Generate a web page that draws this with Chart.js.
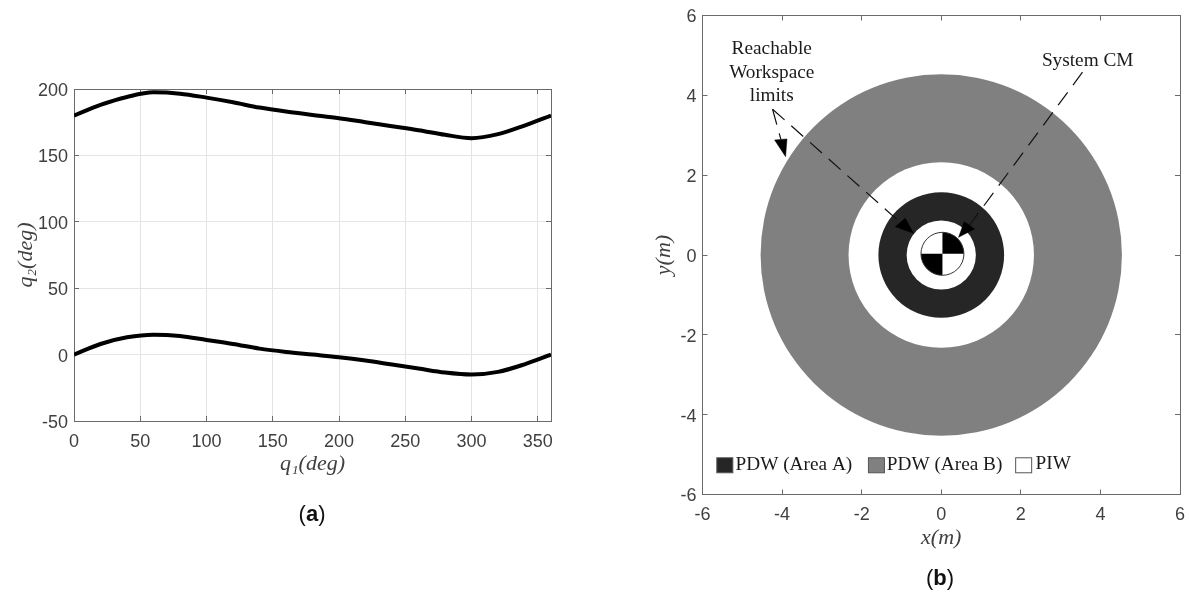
<!DOCTYPE html>
<html>
<head>
<meta charset="utf-8">
<script src="https://cdn.jsdelivr.net/npm/chart.js@4"></script>
<style>
  body { margin: 0; background: #fff; }
  canvas { position: absolute; top: 0; }
  .cap { position: absolute; font: 22px "Liberation Sans", sans-serif; color: #111; transform: translateX(-50%); }
  .cap b { font-weight: bold; }
</style>
</head>
<body>
<canvas id="curveChart" width="620" height="596" style="left:0"></canvas>
<canvas id="workspaceChart" width="549" height="596" style="left:640px"></canvas>
<div class="cap" style="left:312px;top:501px">(<b>a</b>)</div>
<div class="cap" style="left:940px;top:565px">(<b>b</b>)</div>

<script>
// panel (a)
const q1Values = [0, 20, 40, 60, 80, 100, 120, 140, 160, 180, 200, 220, 240, 260, 280, 300, 320, 340, 360];
const q2Upper = [180, 188, 194, 197.5, 196.5, 193.5, 190, 186, 183, 180.5, 178, 175, 172, 169, 165.5, 163, 166, 172.5, 180];
const q2Lower = [0, 8, 13, 15, 14, 11, 8, 4.5, 2, 0, -2, -4.5, -7.5, -10.5, -13.5, -15, -13, -7.3, 0];
const q1Ticks = [0, 50, 100, 150, 200, 250, 300, 350];
const q2Ticks = [-50, 0, 50, 100, 150, 200];

// panel (b), everything in metres
const workspaceTicks = [-6, -4, -2, 0, 2, 4, 6];
const ringRadii = [0.87, 1.58, 2.33, 4.54];
const ringColors = ["#ffffff", "#262626", "#ffffff", "#808080"];
const cmCenter = [0.03, 0.03];
const cmRadius = 0.54;
const leaderA = [[-4.239, 3.652], [-1.03, 0.815]];
const leaderB = [[-4.239, 3.652], [-4.03, 2.895]];
const leaderC = [[3.55, 4.579], [0.707, 0.743]];
const headA = [[-0.696, 0.544], [-1.156, 0.709], [-0.905, 0.92]];
const headB = [[-3.912, 2.464], [-4.188, 2.882], [-3.877, 2.907]];
const headC = [[0.435, 0.444], [0.578, 0.835], [0.837, 0.652]];

const INK = "#404040";
const AXIS = "#6a6a6a";
const SANS = "Liberation Sans";
const SERIF = "Liberation Serif";

const toPoints = (xs, ys) => xs.map((x, i) => ({ x, y: ys[i] }));
const pairs = (list) => list.map(([x, y]) => ({ x, y }));

function fixedTicks(values) {
  return (scale) => { scale.ticks = values.map((value) => ({ value })); };
}

// labels at the axis ends must not push the plot area in
function noOverhang(s) {
  s.paddingLeft = s.paddingRight = s.paddingTop = s.paddingBottom = 0;
}

// main axis with inward ticks, size forced so the plot area lands where we want it
function mainAxis(min, max, values, size, title, gridColor, tickPad, labelOffset) {
  return {
    min, max,
    afterBuildTicks: fixedTicks(values),
    afterFit: (s) => {
      if (s.isHorizontal()) s.height = size; else s.width = size;
      noOverhang(s);
    },
    border: { color: AXIS },
    grid: { color: gridColor, tickColor: AXIS, tickLength: -5 },
    ticks: { color: INK, font: { family: SANS, size: 18 }, padding: tickPad, labelOffset, maxRotation: 0, autoSkip: false },
    title: {
      display: true, text: title, color: INK, padding: 0,
      font: { family: SERIF, size: 22, style: "italic", lineHeight: 1.2 },
    },
  };
}

// mirror axis on the far side, only ticks and the box line
function mirrorAxis(position, min, max, values) {
  return {
    position, min, max,
    afterBuildTicks: fixedTicks(values),
    afterFit: (s) => {
      if (s.isHorizontal()) s.height = 0; else s.width = 0;
      noOverhang(s);
    },
    border: { color: AXIS },
    grid: { drawOnChartArea: false, tickColor: AXIS, tickLength: -5 },
    ticks: { display: false },
  };
}

const baseOptions = {
  responsive: false,
  animation: false,
  events: [],
};

function initCurveChart() {
  const el = document.getElementById("curveChart");
  new Chart(el, {
    type: "line",
    data: {
      datasets: [q2Upper, q2Lower].map((ys) => ({
        data: toPoints(q1Values, ys),
        borderColor: "#000",
        borderWidth: 4,
        pointRadius: 0,
        cubicInterpolationMode: "monotone",
      })),
    },
    options: {
      ...baseOptions,
      layout: { autoPadding: false, padding: { left: 13, right: 69, top: 89, bottom: 119 } },
      plugins: { legend: { display: false }, tooltip: { enabled: false } },
      scales: {
        x: { type: "linear", ...mainAxis(0, 360, q1Ticks, 56, "q₁(deg)", "#e4e4e4", 15, 0) },
        y: mainAxis(-50, 200, q2Ticks, 61, "q₂(deg)", "#e4e4e4", 11, 2),
        x2: { type: "linear", ...mirrorAxis("top", 0, 360, q1Ticks) },
        y2: mirrorAxis("right", -50, 200, q2Ticks),
      },
    },
  });
}

// centre of mass symbol and the free text on panel (b)
const workspaceLabels = {
  id: "workspaceLabels",
  afterDatasetsDraw(chart) {
    const { ctx, scales: { x, y } } = chart;
    const px = (v) => x.getPixelForValue(v);
    const py = (v) => y.getPixelForValue(v);

    const cx = px(cmCenter[0]);
    const cy = py(cmCenter[1]);
    const r = px(cmRadius) - px(0);
    ctx.save();
    ctx.fillStyle = "#000";
    [[-Math.PI / 2, 0], [Math.PI / 2, Math.PI]].forEach(([a, b]) => {
      ctx.beginPath();
      ctx.moveTo(cx, cy);
      ctx.arc(cx, cy, r, a, b);
      ctx.closePath();
      ctx.fill();
    });
    ctx.beginPath();
    ctx.arc(cx, cy, r, 0, Math.PI * 2);
    ctx.strokeStyle = "#333";
    ctx.lineWidth = 1;
    ctx.stroke();

    ctx.fillStyle = "#1a1a1a";
    ctx.font = `19.3px "${SERIF}"`;
    ctx.textBaseline = "middle";
    ctx.textAlign = "center";
    ctx.fillText("Reachable", px(-4.26), py(5.17));
    ctx.fillText("Workspace", px(-4.26), py(4.57));
    ctx.fillText("limits", px(-4.26), py(3.99));
    ctx.fillText("System CM", px(3.68), py(4.86));

    // legend, sits inside the axes in the original
    ctx.textAlign = "left";
    ctx.fillText("PDW (Area A)", px(-5.17), py(-5.27));
    ctx.fillText("PDW (Area B)", px(-1.37), py(-5.27));
    ctx.fillText("PIW", px(2.37), py(-5.24));
    [[-5.64, "#262626"], [-1.83, "#808080"], [1.87, "#ffffff"]].forEach(([lx, fill]) => {
      ctx.fillStyle = fill;
      ctx.strokeStyle = "#555";
      ctx.lineWidth = 1;
      ctx.fillRect(px(lx), py(-5.08), 16, 15);
      ctx.strokeRect(px(lx), py(-5.08), 16, 15);
    });
    ctx.restore();
  },
};

function leader(points) {
  return {
    type: "scatter",
    data: pairs(points),
    showLine: true,
    borderColor: "#111",
    borderWidth: 1.2,
    borderDash: [16, 9],
    pointRadius: 0,
  };
}

function arrowHead(points) {
  return {
    type: "scatter",
    data: pairs([...points, points[0]]),
    showLine: true,
    fill: "shape",
    backgroundColor: "#000",
    borderColor: "#000",
    borderWidth: 0.5,
    pointRadius: 0,
  };
}

function initWorkspaceChart() {
  const el = document.getElementById("workspaceChart");
  const rings = ringRadii.map((r, i) => ({
    type: "bubble",
    data: [{ x: 0, y: 0, r: 1 }],
    backgroundColor: ringColors[i],
    borderWidth: 0,
    clip: false,
  }));

  const chart = new Chart(el, {
    type: "bubble",
    data: {
      // first dataset is painted last, so the rings go at the end, biggest one last
      datasets: [
        arrowHead(headA), arrowHead(headB), arrowHead(headC),
        leader(leaderA), leader(leaderB), leader(leaderC),
        ...rings,
      ],
    },
    options: {
      ...baseOptions,
      layout: { autoPadding: false, padding: { left: 11, right: 9, top: 15.5, bottom: 45 } },
      plugins: { legend: { display: false }, tooltip: { enabled: false } },
      scales: {
        x: mainAxis(-6, 6, workspaceTicks, 56.5, "x(m)", "transparent", 15, 0),
        y: mainAxis(-6, 6, workspaceTicks, 51.5, "y(m)", "transparent", 11, 2),
        x2: mirrorAxis("top", -6, 6, workspaceTicks),
        y2: mirrorAxis("right", -6, 6, workspaceTicks),
      },
    },
    plugins: [workspaceLabels],
  });

  // bubble r is in pixels and gets read before layout, so set it once the scale exists
  const xScale = chart.scales.x;
  rings.forEach((ring, i) => {
    ring.data[0].r = xScale.getPixelForValue(ringRadii[i]) - xScale.getPixelForValue(0);
  });
  chart.update();
}

document.addEventListener("DOMContentLoaded", () => {
  initCurveChart();
  initWorkspaceChart();
});
</script>
</body>
</html>
